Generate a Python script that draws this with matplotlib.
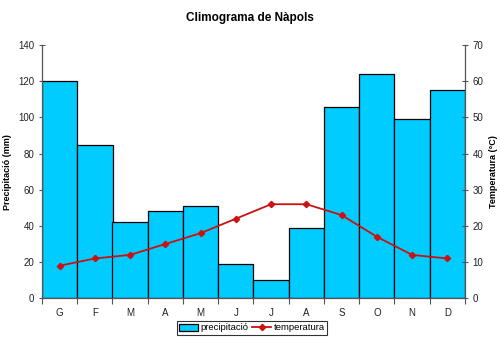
import matplotlib
matplotlib.use("Agg")
import matplotlib.pyplot as plt
import numpy as np

months = ["G", "F", "M", "A", "M", "J", "J", "A", "S", "O", "N", "D"]
precipitacio = [120, 85, 42, 48, 51, 19, 10, 39, 106, 124, 99, 115]
temperatura = [9, 11, 12, 15, 18, 22, 26, 26, 23, 17, 12, 11]

plt.rcParams["font.family"] = ["Liberation Sans", "DejaVu Sans"]

fig = plt.figure(figsize=(5.0, 3.38), dpi=100)
ax = fig.add_axes([42 / 500, 1 - 298.3 / 338, (465 - 42) / 500, (298.3 - 45) / 338])
x = np.arange(len(months))

ax.bar(x, precipitacio, width=1.0, color="#00CCFF", edgecolor="black",
       linewidth=0.9, label="precipitació", zorder=2)
ax.set_xlim(-0.5, len(months) - 0.5)
ax.set_ylim(0, 140)
ax.set_yticks(np.arange(0, 141, 20))
ax.set_xticks(x)
ax.set_xticklabels(months)
ax.set_xticks(np.arange(-0.5, len(months), 1.0), minor=True)
ax.tick_params(axis="x", which="major", length=0, pad=7, labelsize=7, labelcolor="#222222")
ax.tick_params(axis="x", which="minor", length=4, direction="out", width=0.8, color="#555555")
ax.tick_params(axis="y", length=5, direction="inout", width=0.8, color="#555555",
               labelsize=7, labelcolor="#222222", pad=3)
ax.spines["top"].set_visible(False)
ax.spines["right"].set_visible(False)
for s in ("left", "bottom"):
    ax.spines[s].set_color("#555555")
    ax.spines[s].set_linewidth(0.9)
ax.set_ylabel("Precipitació (mm)", fontsize=6.5, fontweight="bold")
ax.yaxis.set_label_coords((12 - 42) / 423, 0.5)

ax2 = ax.twinx()
ax2.plot(x, temperatura, color="#CC1111", linewidth=1.3, marker="D", markersize=3.2,
         label="temperatura", zorder=3)
ax2.set_ylim(0, 70)
ax2.set_yticks(np.arange(0, 71, 10))
ax2.tick_params(axis="y", length=5, direction="inout", width=0.8, color="#555555",
                labelsize=7, labelcolor="#222222", pad=3)
ax2.spines["top"].set_visible(False)
ax2.spines["left"].set_visible(False)
ax2.spines["bottom"].set_visible(False)
ax2.spines["right"].set_color("#555555")
ax2.spines["right"].set_linewidth(0.9)
ax2.set_ylabel("Temperatura (°C)", fontsize=6.5, fontweight="bold")
ax2.yaxis.set_label_coords((489 - 42) / 423, 0.5)

fig.text(0.5, 1 - 18 / 338, "Climograma de Nàpols", ha="center", va="center",
         fontsize=8.5, fontweight="bold")

h1, l1 = ax.get_legend_handles_labels()
h2, l2 = ax2.get_legend_handles_labels()
leg = fig.legend(h1 + h2, l1 + l2, loc="center", bbox_to_anchor=(252 / 500, 1 - 328 / 338),
                 ncol=2, fontsize=6.8, frameon=True, fancybox=False, handlelength=2.0,
                 handleheight=0.7, columnspacing=0.4, handletextpad=0.25,
                 borderpad=0.25, borderaxespad=0)
leg.get_frame().set_edgecolor("black")
leg.get_frame().set_linewidth(0.8)

fig.savefig("out.png", dpi=100)
